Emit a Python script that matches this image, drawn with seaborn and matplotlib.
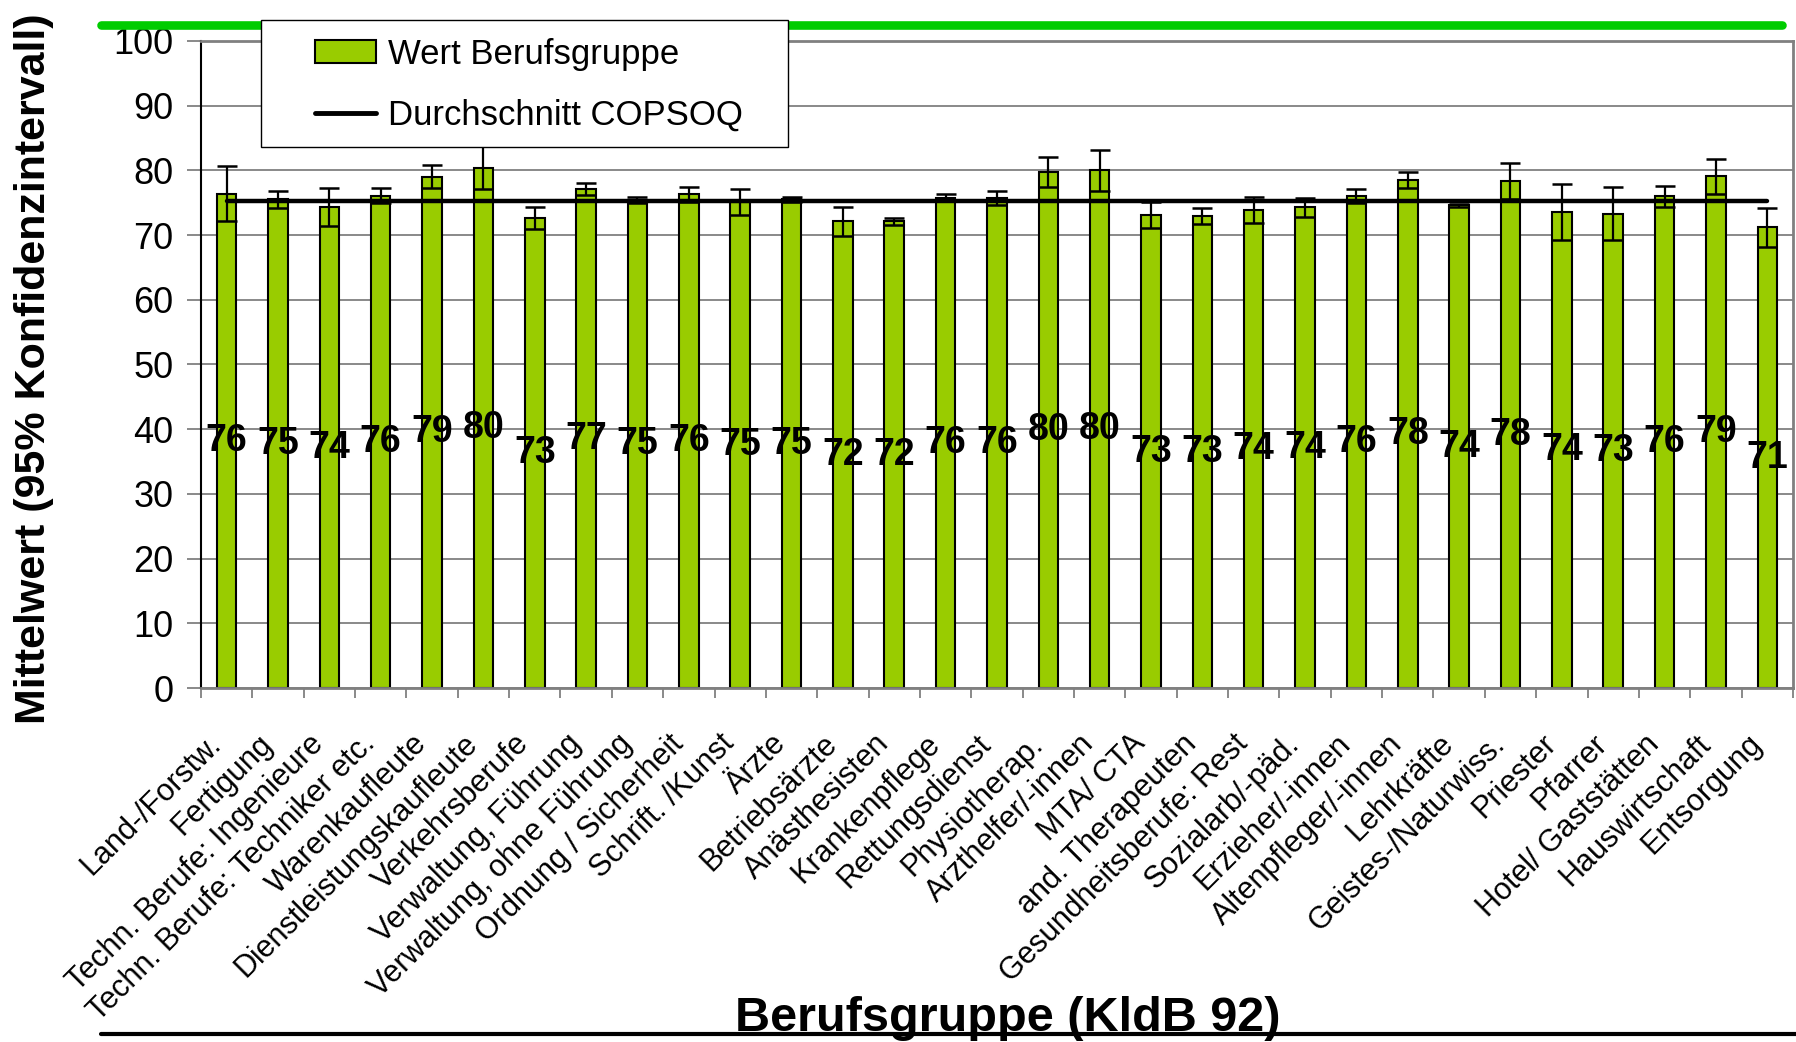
import numpy as np
import pandas as pd
import matplotlib
matplotlib.use("Agg")
import matplotlib.pyplot as plt
import matplotlib.transforms as mtransforms
from matplotlib.lines import Line2D
from matplotlib.patches import Patch, Rectangle
import seaborn as sns

# Berufsgruppen (KldB 92)
berufe = ["Land-/Forstw.", "Fertigung", "Techn. Berufe: Ingenieure",
          "Techn. Berufe: Techniker etc.", "Warenkaufleute",
          "Dienstleistungskaufleute", "Verkehrsberufe", "Verwaltung, Führung",
          "Verwaltung, ohne Führung", "Ordnung / Sicherheit", "Schrift. /Kunst",
          "Ärzte", "Betriebsärzte", "Anästhesisten", "Krankenpflege",
          "Rettungsdienst", "Physiotherap.", "Arzthelfer/-innen", "MTA/ CTA",
          "and. Therapeuten", "Gesundheitsberufe: Rest", "Sozialarb/-päd.",
          "Erzieher/-innen", "Altenpfleger/-innen", "Lehrkräfte",
          "Geistes-/Naturwiss.", "Priester", "Pfarrer", "Hotel/ Gaststätten",
          "Hauswirtschaft", "Entsorgung"]

# Mittelwerte und halbe Breite des 95%-Konfidenzintervalls
werte = [76.4, 75.5, 74.3, 76.1, 79.0, 80.4, 72.6, 77.1, 75.4, 76.3, 75.1,
         75.5, 72.1, 72.1, 75.8, 75.7, 79.8, 80.0, 73.1, 73.0, 73.9, 74.3,
         76.0, 78.5, 74.6, 78.3, 73.6, 73.3, 76.0, 79.1, 71.2]
ci = [4.3, 1.3, 2.9, 1.1, 1.8, 3.3, 1.7, 0.9, 0.5, 1.2, 2.0,
      0.4, 2.3, 0.5, 0.6, 1.1, 2.3, 3.2, 1.95, 1.25, 2.0, 1.5,
      1.1, 1.3, 0.2, 2.8, 4.3, 4.1, 1.6, 2.7, 3.05]
beschriftung = ["76", "75", "74", "76", "79", "80", "73", "77", "75", "76", "75",
                "75", "72", "72", "76", "76", "80", "80", "73", "73", "74", "74",
                "76", "78", "74", "78", "74", "73", "76", "79", "71"]
durchschnitt = 75.2

sns.set_style("white")
plt.rcParams['font.family'] = ['Liberation Sans', 'DejaVu Sans']
plt.rcParams['text.color'] = 'black'
plt.rcParams['xtick.color'] = 'black'
plt.rcParams['ytick.color'] = 'black'

df = pd.DataFrame({'Beruf': berufe, 'Wert': werte})
n = len(berufe)

fig = plt.figure(figsize=(17.96, 10.42), dpi=100)
ax = fig.add_axes([0.1119, 0.3397, 0.8864, 0.621])

sns.barplot(data=df, x='Beruf', y='Wert', color='#99cc00', saturation=1,
            edgecolor='black', linewidth=1.5, width=0.38, errorbar=None, ax=ax)
ax.plot(np.arange(n), [durchschnitt] * n, color='black', lw=3.2, zorder=3)
ax.errorbar(np.arange(n), werte, yerr=ci, fmt='none', ecolor='black',
            elinewidth=1.6, capsize=7, capthick=1.8, zorder=4)

for i, (v, t) in enumerate(zip(werte, beschriftung)):
    ax.text(i, v / 2, t, ha='center', va='center', fontsize=27,
            fontweight='bold', color='black', zorder=5)

# Achsen
ax.set_xlim(-0.5, n - 0.5)
ax.set_ylim(0, 100)
ax.set_yticks(range(0, 101, 10))
ax.yaxis.grid(True, color='#808080', lw=1.3)
ax.set_axisbelow(True)
ax.set_xlabel('')
ax.set_ylabel('')

ax.set_xticks(np.arange(-0.5, n, 1))
ax.set_xticklabels([])
ax.set_xticks(np.arange(n), minor=True)
ax.set_xticklabels(berufe, minor=True, rotation=45, ha='right', va='center',
                   rotation_mode='anchor', fontsize=22, color='black')
ax.tick_params(axis='x', which='major', direction='out', length=7, width=1.3,
               color='#808080', bottom=True)
ax.tick_params(axis='x', which='minor', length=0, pad=37, bottom=True)
ax.tick_params(axis='y', direction='out', length=10, width=1.3,
               color='#808080', labelcolor='black', labelsize=26, pad=10, left=True)
shift = mtransforms.ScaledTranslation(-10 / 100, 0, fig.dpi_scale_trans)
for lab in ax.get_xticklabels(minor=True):
    lab.set_transform(lab.get_transform() + shift)

ax.spines['left'].set_color('black')
ax.spines['left'].set_linewidth(1.5)
for s in ['top', 'right', 'bottom']:
    ax.spines[s].set_color('#808080')
    ax.spines[s].set_linewidth(2)

# Titel der Achsen
fig.text(0.019, 1 - 369 / 1042, 'Mittelwert (95% Konfidenzintervall)',
         rotation=90, ha='center', va='center', fontsize=31, fontweight='bold')
fig.text(1008 / 1796, 1 - 1031 / 1042, 'Berufsgruppe (KldB 92)',
         ha='center', va='baseline', fontsize=35, fontweight='bold')

# Linien oben und unten
fig.add_artist(Line2D([101 / 1796, 1782 / 1796], [1 - 25 / 1042] * 2,
                      color='#00cc00', lw=6.2, transform=fig.transFigure, zorder=1))
fig.add_artist(Line2D([101 / 1796, 1.0], [1 - 1034 / 1042] * 2,
                      color='black', lw=3, transform=fig.transFigure, zorder=10))

# Legende
fig.add_artist(Rectangle((261 / 1796, 1 - 147 / 1042), 527 / 1796, 127 / 1042,
                         transform=fig.transFigure, facecolor='white',
                         edgecolor='black', lw=1, zorder=5))
handles = [Patch(facecolor='#99cc00', edgecolor='black', lw=1.5),
           Line2D([], [], color='black', lw=3.5)]
leg = fig.legend(handles=handles, labels=['Wert Berufsgruppe', 'Durchschnitt COPSOQ'],
                 loc='upper left', bbox_to_anchor=(315 / 1796, 1 - 38 / 1042),
                 frameon=False, fontsize=25, handlelength=1.75, handleheight=0.64,
                 handletextpad=0.35, labelspacing=0.8, borderpad=0, borderaxespad=0)
leg.set_zorder(6)

fig.savefig('out.png', dpi=100)
